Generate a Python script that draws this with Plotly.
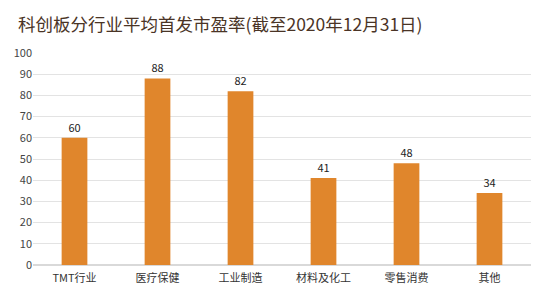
import plotly.graph_objects as go

categories = ["TMT行业", "医疗保健", "工业制造", "材料及化工", "零售消费", "其他"]
values = [60, 88, 82, 41, 48, 34]
y_ticks = [0, 10, 20, 30, 40, 50, 60, 70, 80, 90, 100]

font = "Noto Sans CJK SC"

fig = go.Figure(go.Bar(
    x=categories, y=values,
    marker=dict(color="#E0862C", line=dict(width=0)),
    text=[str(v) for v in values], textposition="outside",
    textfont=dict(size=11, color="#222222", family=font),
    cliponaxis=False,
))

fig.update_layout(
    width=550, height=291,
    margin=dict(l=33, r=19, t=53, b=26),
    paper_bgcolor="white", plot_bgcolor="white",
    bargap=0.69,
    showlegend=False,
    title=dict(text="科创板分行业平均首发市盈率(截至2020年12月31日)",
               x=18/550, xref="container", xanchor="left",
               y=1 - 25/291, yref="container", yanchor="middle",
               font=dict(family=font, size=17.5, color="#4a3426")),
    font=dict(family=font),
)
fig.update_yaxes(range=[0, 100], tickvals=y_ticks, showgrid=True, gridcolor="#e3e3e3",
                 gridwidth=1, zeroline=True, zerolinecolor="#d9d9d9",
                 tickfont=dict(size=11, color="#444444"), ticks="", ticklen=0,
                 showline=False, automargin=False)
fig.update_xaxes(tickfont=dict(size=11, color="#333333"), showline=False, ticks="",
                 ticklabelstandoff=5, automargin=False)

fig.write_html("out.html")
